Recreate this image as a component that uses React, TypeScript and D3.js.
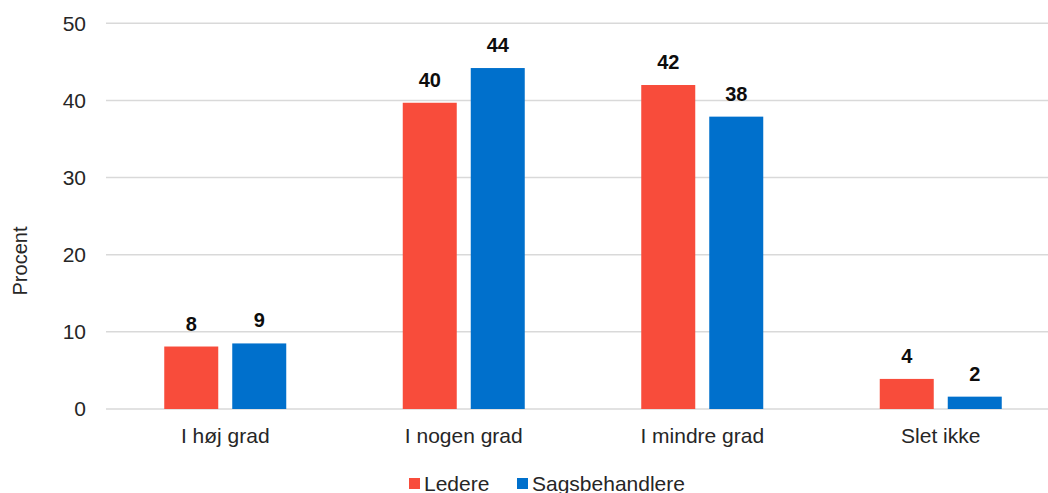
import React, { useEffect, useRef } from 'react';
import * as d3 from 'd3';

const categories = ['I høj grad', 'I nogen grad', 'I mindre grad', 'Slet ikke'];
const seriesNames = ['Ledere', 'Sagsbehandlere'];
const ledere = [8.1, 39.7, 42.0, 3.9];
const sagsbehandlere = [8.5, 44.2, 37.9, 1.6];
const yTicks = [0, 10, 20, 30, 40, 50];
const colors = ['#F84C3B', '#0070CC'];

const W = 1048;
const H = 493;

export default function App() {
  const svgRef = useRef<SVGSVGElement>(null);

  useEffect(() => {
    if (!svgRef.current) return;
    const svg = d3.select(svgRef.current);
    svg.selectAll('*').remove();

    const font = '"Liberation Sans", Arial, sans-serif';
    const x = d3.scaleBand().domain(categories).range([106, 1060]).paddingInner(0).paddingOuter(0);
    const y = d3.scaleLinear().domain([0, 50]).range([409, 23.3]);

    const barW = 54;
    const gap = 14;

    // Grid lines
    svg
      .append('g')
      .selectAll('line')
      .data(yTicks)
      .enter()
      .append('line')
      .attr('x1', 106)
      .attr('x2', W)
      .attr('y1', (d) => y(d))
      .attr('y2', (d) => y(d))
      .attr('stroke', '#d9d9d9')
      .attr('stroke-width', 1.5);

    // Y tick labels
    svg
      .append('g')
      .selectAll('text')
      .data(yTicks)
      .enter()
      .append('text')
      .attr('x', 86)
      .attr('y', (d) => y(d))
      .attr('dy', '0.35em')
      .attr('text-anchor', 'end')
      .style('font-family', font)
      .style('font-size', '21px')
      .style('fill', '#262626')
      .text((d) => d);

    // Y label
    svg
      .append('text')
      .attr('transform', `translate(27, 261) rotate(-90)`)
      .attr('text-anchor', 'middle')
      .style('font-family', font)
      .style('font-size', '20px')
      .style('fill', '#262626')
      .text('Procent');

    const series = [ledere, sagsbehandlere];
    series.forEach((vals, si) => {
      const g = svg.append('g');
      const bx = (i: number) => {
        const c = (x(categories[i]) as number) + x.bandwidth() / 2;
        return si === 0 ? c - gap / 2 - barW : c + gap / 2;
      };
      g.selectAll('rect')
        .data(vals)
        .enter()
        .append('rect')
        .attr('x', (_d, i) => bx(i))
        .attr('y', (d) => y(d))
        .attr('width', barW)
        .attr('height', (d) => y(0) - y(d))
        .attr('fill', colors[si]);
      g.selectAll('text')
        .data(vals)
        .enter()
        .append('text')
        .attr('x', (_d, i) => bx(i) + barW / 2)
        .attr('y', (d) => y(d) - 16)
        .attr('text-anchor', 'middle')
        .style('font-family', font)
        .style('font-size', '20px')
        .style('font-weight', 'bold')
        .style('fill', '#0d0d0d')
        .text((d) => Math.round(d));
    });

    // Category labels
    svg
      .append('g')
      .selectAll('text')
      .data(categories)
      .enter()
      .append('text')
      .attr('x', (d) => (x(d) as number) + x.bandwidth() / 2)
      .attr('y', 443)
      .attr('text-anchor', 'middle')
      .style('font-family', font)
      .style('font-size', '21px')
      .style('fill', '#262626')
      .text((d) => d);

    // Legend
    const legendX = [409, 517];
    seriesNames.forEach((name, i) => {
      svg
        .append('rect')
        .attr('x', legendX[i])
        .attr('y', 478)
        .attr('width', 11)
        .attr('height', 11)
        .attr('fill', colors[i]);
      svg
        .append('text')
        .attr('x', legendX[i] + 15)
        .attr('y', 491)
        .style('font-family', font)
        .style('font-size', '21px')
        .style('fill', '#262626')
        .text(name);
    });
  }, []);

  return (
    <div style={{ position: 'absolute', left: 0, top: 0 }}>
      <svg ref={svgRef} width={W} height={H} style={{ display: 'block' }}></svg>
    </div>
  );
}
